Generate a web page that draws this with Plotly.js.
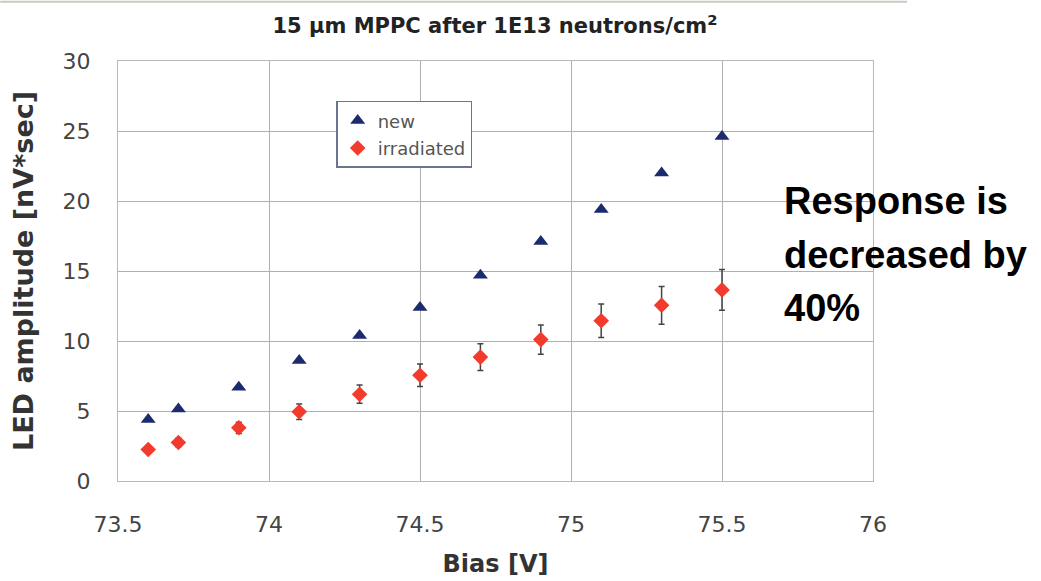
<!DOCTYPE html>
<html><head><meta charset="utf-8">
<script src="https://cdn.plot.ly/plotly-3.0.1.min.js"></script>
<style>html,body{margin:0;padding:0;background:#fff}#chart{width:1041px;height:581px}</style>
</head><body><div id="chart"></div>
<script>
const biasNew = [73.6, 73.7, 73.9, 74.1, 74.3, 74.5, 74.7, 74.9, 75.1, 75.3, 75.5];
const ampNew = [4.4, 5.15, 6.7, 8.6, 10.4, 12.4, 14.7, 17.1, 19.4, 22.0, 24.6];
const biasIrr = [73.6, 73.7, 73.9, 74.1, 74.3, 74.5, 74.7, 74.9, 75.1, 75.3, 75.5];
const ampIrr = [2.25, 2.75, 3.8, 4.95, 6.2, 7.55, 8.85, 10.1, 11.45, 12.55, 13.65];
const errIrr = [0.25, 0.3, 0.4, 0.55, 0.65, 0.8, 0.95, 1.05, 1.2, 1.35, 1.45];
const seriesNames = ['new', 'irradiated'];
const xTicks = [73.5, 74, 74.5, 75, 75.5, 76];
const xTickText = ['73.5', '74', '74.5', '75', '75.5', '76'];
const yTicks = [0, 5, 10, 15, 20, 25, 30];
const titleText = '15 µm MPPC after 1E13 neutrons/cm<sup>2</sup>';
const noteLines = ['Response is', 'decreased by', '40%'];

const traces = [
  {x: biasNew, y: ampNew, name: seriesNames[0], mode: 'markers', type: 'scatter', legendgroup: 'a',
   marker: {symbol: 'triangle-up', size: 13, color: '#1c2a6e'}},
  {x: biasIrr, y: ampIrr, name: seriesNames[1], mode: 'markers', type: 'scatter', legendgroup: 'b',
   marker: {symbol: 'diamond', size: 12, color: '#f23b2c'},
   error_y: {type: 'data', array: errIrr, visible: true, color: '#444', thickness: 1.5, width: 3}}
];
const noteY = [0.666, 0.539, 0.413];
const annotations = noteLines.map((t, i) => ({
  text: '<b>' + t + '</b>', xref: 'paper', yref: 'paper', x: 0.880, y: noteY[i],
  xanchor: 'left', yanchor: 'middle', align: 'left', showarrow: false,
  font: {size: 38, color: '#000', family: 'Liberation Sans, Arial, sans-serif'}
}));
const layout = {
  width: 1041, height: 581,
  margin: {l: 118, r: 168, t: 61, b: 100},
  paper_bgcolor: '#fff', plot_bgcolor: '#fff',
  font: {family: 'DejaVu Sans, sans-serif', color: '#444'},
  title: {text: titleText, x: 0.4755, xanchor: 'center', y: 0.955, yanchor: 'middle',
          font: {size: 21, color: '#222', family: 'DejaVu Sans, sans-serif', weight: 'bold'}},
  xaxis: {range: [73.5, 76], tickvals: xTicks, ticktext: xTickText, showgrid: true,
          gridcolor: '#b0b0b0', gridwidth: 1.4, zeroline: false, showline: true, linecolor: '#b8b8b8',
          linewidth: 1.4, mirror: true, ticks: '', ticklabelstandoff: 23,
          tickfont: {size: 22, color: '#444'},
          title: {text: '<b>Bias [V]</b>', font: {size: 24, color: '#333'}, standoff: 19}},
  yaxis: {range: [0, 30], tickvals: yTicks, showgrid: true, gridcolor: '#b0b0b0', gridwidth: 1.4,
          zeroline: false, showline: true, linecolor: '#b8b8b8', linewidth: 1.4, mirror: true,
          ticks: '', ticklabelstandoff: 22, tickfont: {size: 22, color: '#444'},
          title: {text: '<b>LED amplitude [nV*sec]</b>', font: {size: 27, color: '#333'}, standoff: 20}},
  legend: {x: 0.289, y: 0.905, xanchor: 'left', yanchor: 'top', bgcolor: '#fff',
           bordercolor: '#6a7590', borderwidth: 1.5, font: {size: 18, color: '#555'},
           itemwidth: 30, tracegroupgap: 1},
  showlegend: true,
  shapes: [{type: 'line', xref: 'paper', yref: 'paper', x0: -0.156, x1: 1.045, y0: 1.141, y1: 1.141,
            line: {color: '#cfc8c0', width: 2}}],
  annotations: annotations
};
Plotly.newPlot('chart', traces, layout, {displayModeBar: false});
</script></body></html>
